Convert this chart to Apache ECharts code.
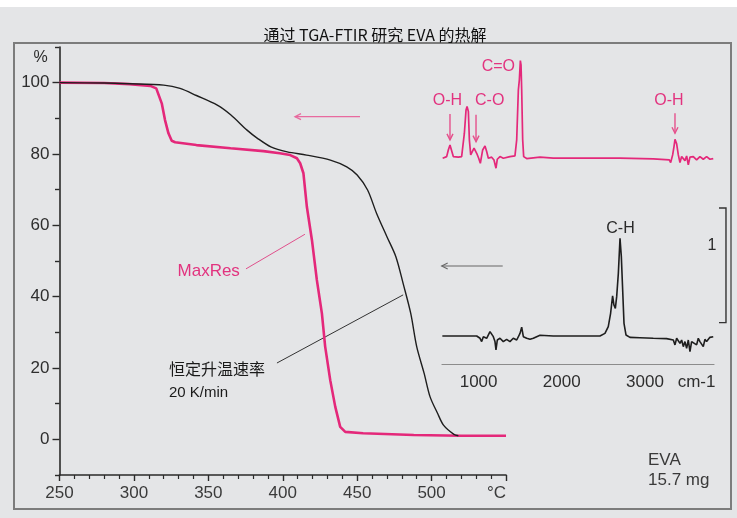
<!DOCTYPE html>
<html>
<head>
<meta charset="utf-8">
<script src="https://cdn.jsdelivr.net/npm/echarts@6/dist/echarts.min.js"></script>
<style>
html, body { margin: 0; padding: 0; background: #ffffff; }
#c { width: 737px; height: 518px; }
</style>
</head>
<body>
<div id="c"></div>
<script>
// ---- TGA curves: temperature (°C) vs. residual mass (%) ----
const maxresTemp = [250, 280, 297, 311, 315, 318.7, 320.9, 323.2, 325.4, 327.7, 342, 365, 387, 398, 405, 409.5, 411.7, 413.9, 416.2, 419.6, 422.9, 426.3, 428.5, 431.9, 435.3, 438.6, 442, 454, 488, 520, 550];
const maxresMass = [100, 99.9, 99.6, 99.1, 98.4, 94.2, 89.5, 85.8, 83.7, 83.3, 82.5, 81.6, 80.8, 80.2, 79.7, 78.8, 77.4, 74.6, 65.2, 55.9, 44.7, 35.3, 26.0, 16.6, 9.1, 3.5, 2.1, 1.7, 1.2, 1.0, 1.0];

const constTemp = [250, 280, 297, 320, 331, 342, 356, 365, 376, 383, 392, 403, 416, 432, 443, 450, 457, 463, 470, 476, 481, 486, 490, 495, 499, 504, 508, 515, 518];
const constMass = [100, 99.9, 99.7, 99.3, 98.4, 96.4, 93.7, 91.0, 86.7, 84.4, 82.0, 80.6, 79.7, 78.3, 76.4, 74.1, 69.9, 63.4, 56.8, 51.2, 43.5, 35.3, 26.0, 18.5, 11.9, 7.3, 4.0, 1.4, 1.0];

// ---- FTIR spectra: wavenumber (cm-1) vs. absorbance ----
const pinkWn = [568, 616, 636, 656, 676, 696, 756, 796, 829, 849, 861, 877, 889, 905, 925, 945, 961, 977, 1001, 1021, 1049, 1077, 1097, 1117, 1157, 1185, 1209, 1225, 1257, 1297, 1377, 1437, 1458, 1478, 1490, 1502, 1510, 1518, 1530, 1542, 1578, 1738, 1898, 2299, 2700, 3100, 3293, 3309, 3333, 3349, 3361, 3381, 3401, 3421, 3441, 3461, 3481, 3501, 3521, 3541, 3581, 3621, 3661, 3701, 3741, 3781, 3821];
const pinkAbs = [0.000, 0.014, 0.072, 0.116, 0.101, 0.014, 0.009, 0.014, 0.218, 0.421, 0.450, 0.407, 0.160, 0.029, 0.043, 0.087, 0.072, 0.043, 0.000, -0.044, 0.072, 0.107, 0.058, 0.000, 0.009, -0.015, -0.087, -0.009, 0.014, 0.000, 0.014, 0.020, 0.160, 0.596, 0.683, 0.851, 0.814, 0.596, 0.160, 0.014, -0.003, 0.009, 0.000, 0.000, 0.000, -0.006, -0.015, -0.038, 0.029, 0.101, 0.165, 0.125, 0.029, -0.038, 0.014, -0.003, -0.021, 0.020, -0.058, 0.009, 0.014, -0.015, 0.014, -0.009, 0.014, -0.009, -0.003];

const blackWn = [564, 977, 1017, 1037, 1057, 1097, 1137, 1157, 1177, 1197, 1209, 1225, 1257, 1297, 1337, 1377, 1417, 1458, 1498, 1518, 1538, 1578, 1618, 1658, 1698, 1738, 1898, 2299, 2459, 2519, 2559, 2587, 2611, 2627, 2644, 2660, 2680, 2700, 2716, 2732, 2748, 2772, 2820, 2940, 3100, 3260, 3341, 3361, 3381, 3421, 3441, 3461, 3481, 3501, 3521, 3541, 3561, 3581, 3621, 3641, 3661, 3701, 3721, 3741, 3781, 3821];
const blackAbs = [0.000, 0.000, -0.020, -0.049, -0.006, -0.020, 0.038, 0.052, -0.006, -0.049, -0.122, -0.035, -0.020, -0.049, -0.029, -0.049, -0.020, -0.035, 0.023, 0.076, -0.006, -0.020, -0.029, -0.020, -0.006, 0.006, 0.000, 0.000, 0.000, 0.023, 0.081, 0.198, 0.349, 0.270, 0.241, 0.343, 0.546, 0.851, 0.692, 0.401, 0.110, 0.009, -0.012, -0.015, -0.020, -0.023, -0.035, -0.078, -0.020, -0.064, -0.035, -0.093, -0.049, -0.108, -0.035, -0.137, -0.049, -0.035, -0.078, -0.020, -0.049, -0.093, -0.029, -0.049, -0.012, -0.006];

// the upper (pink) spectrum is stacked above the lower one by this absorbance offset
const pinkOffset = 1.55;

// ---- tick labels ----
const massTicks = [0, 20, 40, 60, 80, 100];
const massMinorTicks = [-10, 10, 30, 50, 70, 90, 110];
const wnTicks = [1000, 2000, 3000];
const wnUnitPos = 3620;

// ---- annotations ----
const maxresLeader = [[375.3, 47.8], [414.9, 57.5]];
const constLeader = [[396.1, 21.4], [480.9, 40.5]];
const scaleBar = { wn: 3974, wnTick: 3890, base: 0.116, length: 1 };
// peak markers on the upper spectrum: [wavenumber, arrow top, arrow tip]
const pinkArrows = [[656, 0.386, 0.160], [969, 0.378, 0.145], [3361, 0.392, 0.218]];
// band labels: [wavenumber, height, text]
const pinkLabels = [[626, 0.499, 'O-H'], [1133, 0.499, 'C-O'], [1237, 0.799, 'C=O'], [3289, 0.499, 'O-H']];
const blackLabels = [[2706, 0.939, 'C-H']];

const PINK = '#e4287a';
const PINK_TXT = '#e2337f';
const PINK_ARROW = '#e86a9f';
const LATIN = '"Liberation Sans", Arial, sans-serif';
const CJK = '"Noto Sans CJK SC", "Liberation Sans", sans-serif';

const zip = (a, b, off) => a.map((x, i) => [x, b[i] + (off || 0)]);

const chart = echarts.init(document.getElementById('c'));

const option = {
  backgroundColor: '#e4e5e7',
  animation: false,
  grid: [
    { left: 59.5, top: 47, width: 446.5, height: 428, containLabel: false, outerBoundsMode: 'none' },
    { left: 442, top: 49.25, width: 272, height: 315.4, containLabel: false, outerBoundsMode: 'none' }
  ],
  xAxis: [
    {
      type: 'value', gridIndex: 0, min: 250, max: 550, interval: 50,
      axisLine: { show: true, onZero: false, lineStyle: { color: '#2a2a2a', width: 1.6 } },
      axisTick: { show: true, length: 6, lineStyle: { color: '#2a2a2a', width: 1.4 } },
      minorTick: { show: true, splitNumber: 5, length: 4, lineStyle: { color: '#2a2a2a', width: 1.2 } },
      splitLine: { show: false },
      axisLabel: {
        margin: 10, color: '#3a3a3a', fontSize: 17, fontFamily: LATIN,
        alignMaxLabel: 'right',
        formatter: v => (v === 550 ? '°C' : String(v))
      }
    },
    {
      type: 'value', gridIndex: 1, min: 560, max: 3830,
      axisLine: { show: true, onZero: false, lineStyle: { color: '#8c8c8c', width: 1.2 } },
      axisTick: { show: false },
      splitLine: { show: false },
      axisLabel: {
        margin: 9, color: '#2e2e2e', fontSize: 17, fontFamily: LATIN,
        customValues: wnTicks.concat([wnUnitPos]),
        formatter: v => (v === wnUnitPos ? 'cm-1' : String(v))
      }
    }
  ],
  yAxis: [
    {
      type: 'value', gridIndex: 0, position: 'left', min: -10, max: 110, interval: 10,
      axisLine: { show: true, onZero: false, lineStyle: { color: '#2a2a2a', width: 1.6 } },
      axisTick: { show: true, length: 7, customValues: massTicks, lineStyle: { color: '#2a2a2a', width: 1.4 } },
      splitLine: { show: false },
      axisLabel: {
        margin: 10, color: '#2e2e2e', fontSize: 17, fontFamily: LATIN,
        customValues: massTicks
      }
    },
    {
      type: 'value', gridIndex: 0, position: 'left', offset: 0, min: -10, max: 110, interval: 10,
      axisLine: { show: false, onZero: false },
      axisTick: { show: true, length: 4.5, customValues: massMinorTicks, lineStyle: { color: '#2a2a2a', width: 1.4 } },
      axisLabel: { show: false },
      splitLine: { show: false }
    },
    {
      type: 'value', gridIndex: 1, min: -0.25, max: 2.5, show: false,
      axisLine: { onZero: false },
      splitLine: { show: false }
    }
  ],
  series: [
    {
      name: 'MaxRes', type: 'line', xAxisIndex: 0, yAxisIndex: 0,
      data: zip(maxresTemp, maxresMass), symbol: 'none', silent: true,
      lineStyle: { color: PINK, width: 2.6 }, z: 3
    },
    {
      name: '恒定升温速率 20 K/min', type: 'line', xAxisIndex: 0, yAxisIndex: 0,
      data: zip(constTemp, constMass), symbol: 'none', silent: true, smooth: 0.3,
      lineStyle: { color: '#1e1e1e', width: 1.4 }, z: 4
    },
    {
      type: 'line', xAxisIndex: 0, yAxisIndex: 0, data: maxresLeader,
      symbol: 'none', silent: true, lineStyle: { color: '#e0508c', width: 1 }, z: 2
    },
    {
      type: 'line', xAxisIndex: 0, yAxisIndex: 0, data: constLeader,
      symbol: 'none', silent: true, lineStyle: { color: '#333', width: 1 }, z: 2
    },
    {
      type: 'line', xAxisIndex: 1, yAxisIndex: 2,
      data: zip(pinkWn, pinkAbs, pinkOffset), symbol: 'none', silent: true,
      lineStyle: { color: PINK, width: 1.7 }, z: 3
    },
    {
      type: 'line', xAxisIndex: 1, yAxisIndex: 2,
      data: zip(blackWn, blackAbs), symbol: 'none', silent: true,
      lineStyle: { color: '#1e1e1e', width: 1.6 }, z: 3
    }
  ]
};

chart.setOption(option);

// ---- decorations placed after layout ----
function arrow(x1, y1, x2, y2, color, w, hl, hw) {
  const ang = Math.atan2(y2 - y1, x2 - x1);
  const bx = x2 - hl * Math.cos(ang), by = y2 - hl * Math.sin(ang);
  const nx = -Math.sin(ang), ny = Math.cos(ang);
  return [
    { type: 'line', silent: true, z: 10, shape: { x1, y1, x2, y2 }, style: { stroke: color, lineWidth: w } },
    { type: 'polyline', silent: true, z: 10,
      shape: { points: [[bx + nx * hw, by + ny * hw], [x2, y2], [bx - nx * hw, by - ny * hw]] },
      style: { stroke: color, lineWidth: w, fill: null } }
  ];
}
function text(str, x, y, opts) {
  return {
    type: 'text', silent: true, z: 10, x, y,
    style: Object.assign({
      text: str, fill: '#2a2a2a', font: '17px ' + LATIN,
      align: 'center', verticalAlign: 'middle'
    }, opts || {})
  };
}
const inset = p => chart.convertToPixel({ xAxisIndex: 1, yAxisIndex: 2 }, p);

const g = [];
// page margin and frame
g.push({ type: 'rect', silent: true, z: 0, shape: { x: 0, y: 0, width: 737, height: 7 }, style: { fill: '#ffffff' } });
g.push({ type: 'rect', silent: true, z: 0, shape: { x: 14, y: 43, width: 717, height: 466 }, style: { fill: null, stroke: '#7c7c7c', lineWidth: 2 } });

// title
g.push(text('通过 TGA-FTIR 研究 EVA 的热解', 375, 34.5, { font: '16px ' + CJK, fill: '#111' }));

// axis unit on the mass axis
g.push(text('%', 40.5, 58, { font: '16px ' + LATIN }));

// curve labels
g.push(text('MaxRes', 208.7, 271, { font: '17px ' + LATIN, fill: PINK_TXT }));
g.push(text('恒定升温速率', 169, 368.5, { font: '16px ' + CJK, fill: '#1a1a1a', align: 'left' }));
g.push(text('20 K/min', 169, 393, { font: '15px ' + LATIN, fill: '#1a1a1a', align: 'left' }));

// sample
g.push(text('EVA', 648, 460, { align: 'left', fill: '#3a3a3a' }));
g.push(text('15.7 mg', 648, 480, { align: 'left', fill: '#3a3a3a' }));

// arrows linking spectra to the curves
arrow(360, 116.7, 295, 116.7, PINK_ARROW, 1.3, 6, 3).forEach(e => g.push(e));
arrow(502.7, 266, 441.7, 266, '#666', 1.1, 6, 3).forEach(e => g.push(e));

// peak markers on the upper spectrum
pinkArrows.forEach(([wn, top, tip]) => {
  const a = inset([wn, top + pinkOffset]);
  const b = inset([wn, tip + pinkOffset]);
  arrow(a[0], a[1], b[0], b[1], '#e5508c', 1.4, 6, 3).forEach(e => g.push(e));
});
pinkLabels.forEach(([wn, ly, lab]) => {
  const p = inset([wn, ly + pinkOffset]);
  g.push(text(lab, p[0], p[1], { fill: PINK_TXT, font: '16px ' + LATIN }));
});
blackLabels.forEach(([wn, ly, lab]) => {
  const p = inset([wn, ly]);
  g.push(text(lab, p[0], p[1], { fill: '#2a2a2a', font: '16px ' + LATIN }));
});

// absorbance scale bar (one unit) and its label
{
  const t0 = inset([scaleBar.wnTick, scaleBar.base + scaleBar.length]);
  const t1 = inset([scaleBar.wn, scaleBar.base + scaleBar.length]);
  const b1 = inset([scaleBar.wn, scaleBar.base]);
  const b0 = inset([scaleBar.wnTick, scaleBar.base]);
  g.push({ type: 'polyline', silent: true, z: 10, shape: { points: [t0, t1, b1, b0] },
    style: { stroke: '#333', lineWidth: 1.4, fill: null } });
  const p = inset([scaleBar.wnTick, scaleBar.base + scaleBar.length * 0.67]);
  g.push(text('1', p[0] - 7, p[1], { fill: '#2a2a2a', font: '16px ' + LATIN }));
}

chart.setOption({ graphic: g });
</script>
</body>
</html>
